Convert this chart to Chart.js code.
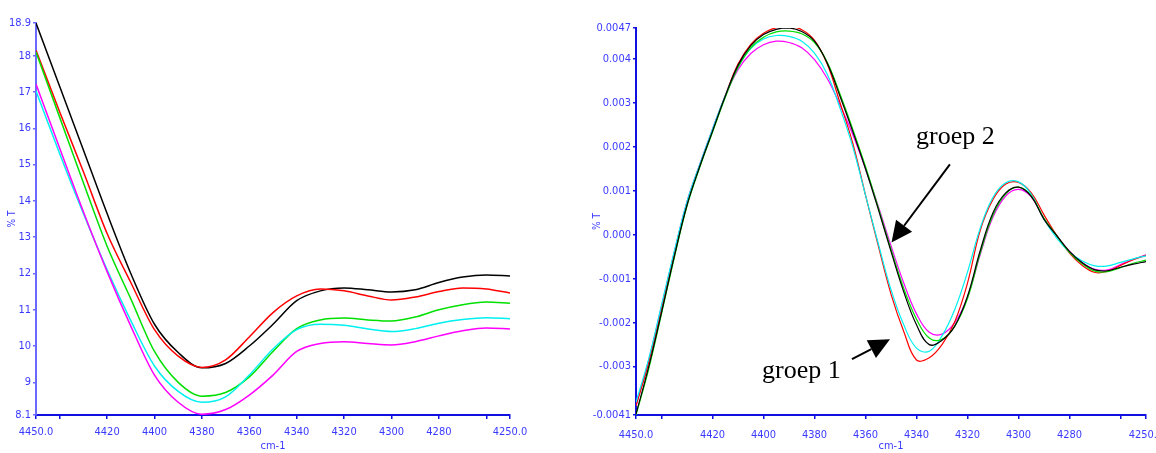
<!DOCTYPE html>
<html>
<head>
<meta charset="utf-8">
<script src="https://cdn.jsdelivr.net/npm/chart.js@4.4.1/dist/chart.umd.min.js"></script>
<style>
    html, body { margin: 0; padding: 0; background: #fff; overflow: hidden; }
    #wrap { position: relative; width: 1156px; height: 453px; overflow: hidden; }
    #canvaLeft { position: absolute; left: 0; top: 0; }
    #canvaRight { position: absolute; left: 590px; top: 0; }
</style>
</head>
<body>
<div id="wrap">
    <canvas id="canvaLeft" width="540" height="453"></canvas>
    <canvas id="canvaRight" width="600" height="453"></canvas>
</div>
<script>
// --- data ---
const leftWavenumbers = [4450, 4440, 4430, 4420, 4410, 4400, 4390, 4380, 4370, 4360, 4350,
    4340, 4330, 4320, 4310, 4300, 4290, 4280, 4270, 4260, 4250];
const leftBlack   = [18.9, 17.15, 15.4, 13.65, 12.0, 10.6, 9.82, 9.4, 9.52, 10.0, 10.6, 11.25, 11.52, 11.6, 11.55, 11.49, 11.55, 11.75, 11.9, 11.96, 11.93];
const leftRed     = [18.15, 16.45, 14.8, 13.1, 11.75, 10.45, 9.72, 9.41, 9.62, 10.25, 10.92, 11.38, 11.57, 11.52, 11.38, 11.27, 11.35, 11.5, 11.6, 11.57, 11.46];
const leftGreen   = [18.1, 16.3, 14.5, 12.75, 11.3, 9.85, 9.0, 8.62, 8.72, 9.15, 9.85, 10.48, 10.72, 10.77, 10.72, 10.69, 10.8, 11.0, 11.14, 11.21, 11.18];
const leftCyan    = [17.03, 15.3, 13.65, 12.1, 10.7, 9.45, 8.75, 8.45, 8.6, 9.2, 9.92, 10.45, 10.6, 10.57, 10.47, 10.4, 10.48, 10.63, 10.73, 10.78, 10.75];
const leftMagenta = [17.22, 15.45, 13.7, 12.05, 10.55, 9.2, 8.45, 8.12, 8.25, 8.65, 9.2, 9.85, 10.07, 10.12, 10.07, 10.03, 10.12, 10.28, 10.42, 10.5, 10.47];
const leftYTicks = [8.1, 9, 10, 11, 12, 13, 14, 15, 16, 17, 18, 18.9];
const leftYLabels = ['8.1', '9', '10', '11', '12', '13', '14', '15', '16', '17', '18', '18.9'];

const rightWavenumbers = [4450, 4445, 4440, 4435, 4430, 4425, 4420, 4415, 4410, 4405, 4400,
    4395, 4390, 4385, 4380, 4375, 4370, 4365, 4360, 4355, 4350,
    4345, 4340, 4335, 4330, 4325, 4320, 4315, 4310, 4305, 4300,
    4295, 4290, 4285, 4280, 4275, 4270, 4265, 4260, 4255, 4250];
const rightBlack = [-0.00408, -0.00300, -0.00177, -0.00050, 0.00067, 0.00155, 0.00235, 0.00315, 0.00385, 0.00430, 0.00455,
    0.00467, 0.00470, 0.00462, 0.00440, 0.00390, 0.00315, 0.00235, 0.00150, 0.00058, -0.00038,
    -0.00130, -0.00205, -0.00250, -0.00240, -0.00208, -0.00140, -0.00036, 0.00050, 0.00095, 0.00108,
    0.00087, 0.00035, -0.00002, -0.00038, -0.00064, -0.00080, -0.00082, -0.00074, -0.00067, -0.00061];
const rightGreen = [-0.00410, -0.00305, -0.00180, -0.00053, 0.00065, 0.00153, 0.00233, 0.00312, 0.00380, 0.00425, 0.00449,
    0.00461, 0.00463, 0.00457, 0.00437, 0.00392, 0.00320, 0.00240, 0.00155, 0.00062, -0.00033,
    -0.00122, -0.00192, -0.00235, -0.00238, -0.00208, -0.00145, -0.00042, 0.00045, 0.00093, 0.00108,
    0.00088, 0.00037, -0.00002, -0.00040, -0.00066, -0.00083, -0.00084, -0.00075, -0.00065, -0.00058];
const rightRed = [-0.00389, -0.00290, -0.00170, -0.00045, 0.00070, 0.00157, 0.00237, 0.00316, 0.00388, 0.00433, 0.00458,
    0.00471, 0.00474, 0.00466, 0.00442, 0.00388, 0.00300, 0.00208, 0.00090, -0.00025, -0.00135,
    -0.00220, -0.00285, -0.00280, -0.00250, -0.00198, -0.00110, 0.00010, 0.00080, 0.00115, 0.00119,
    0.00095, 0.00045, -0.00002, -0.00042, -0.00070, -0.00086, -0.00083, -0.00070, -0.00057, -0.00047];
const rightCyan = [-0.00381, -0.00282, -0.00160, -0.00038, 0.00075, 0.00160, 0.00240, 0.00316, 0.00381, 0.00423, 0.00445,
    0.00453, 0.00451, 0.00440, 0.00413, 0.00365, 0.00288, 0.00200, 0.00090, -0.00020, -0.00125,
    -0.00205, -0.00258, -0.00265, -0.00230, -0.00170, -0.00085, 0.00015, 0.00085, 0.00118, 0.00120,
    0.00092, 0.00035, -0.00008, -0.00040, -0.00060, -0.00071, -0.00071, -0.00063, -0.00055, -0.00048];
const rightMagenta = [-0.00389, -0.00285, -0.00163, -0.00040, 0.00075, 0.00160, 0.00240, 0.00315, 0.00375, 0.00412, 0.00432,
    0.00440, 0.00437, 0.00425, 0.00398, 0.00355, 0.00295, 0.00228, 0.00150, 0.00065, -0.00025,
    -0.00110, -0.00180, -0.00222, -0.00226, -0.00200, -0.00142, -0.00045, 0.00040, 0.00088, 0.00103,
    0.00086, 0.00036, -0.00002, -0.00038, -0.00063, -0.00079, -0.00080, -0.00068, -0.00056, -0.00046];
const rightYTicks = [-0.0041, -0.003, -0.002, -0.001, 0, 0.001, 0.002, 0.003, 0.004, 0.0047];
const rightYLabels = ['-0.0041', '-0.003', '-0.002', '-0.001', '0.000', '0.001', '0.002', '0.003', '0.004', '0.0047'];

const xTicks = [4450, 4440, 4420, 4400, 4380, 4360, 4340, 4320, 4300, 4280, 4260, 4250];
const xLabels = ['4450.0', '', '4420', '4400', '4380', '4360', '4340', '4320', '4300', '4280', '', '4250.0'];

// annotations of the right plot, in data units
const groepTexts = [
    { text: 'groep 2', x: 4340.2, y: 0.00206 },
    { text: 'groep 1', x: 4400.6, y: -0.00326 }
];
const groepArrows = [
    { from: [4326.9, 0.00160], to: [4349.8, -0.00018] },
    { from: [4365.3, -0.00283], to: [4350.4, -0.00238] }
];

const narrowFont = '"Liberation Sans Narrow", "DejaVu Sans Condensed", Arial, sans-serif';
const tickBlue = '#3a3aff';

function puntos(xs, ys) {
    return xs.map((x, i) => ({ x: x, y: ys[i] }));
}

function serie(xs, ys, color, width) {
    return {
        data: puntos(xs, ys),
        borderColor: color,
        backgroundColor: color,
        borderWidth: width,
        pointRadius: 0,
        fill: false
    };
}

function crearGrafico(canvasId, cfg) {
    return new Chart(document.getElementById(canvasId), {
        type: 'line',
        data: { datasets: cfg.datasets },
        plugins: cfg.plugins || [],
        options: {
            responsive: false,
            animation: false,
            devicePixelRatio: 1,
            layout: { padding: cfg.padding },
            elements: { line: cfg.line },
            plugins: { legend: { display: false }, tooltip: { enabled: false } },
            scales: {
                x: {
                    type: 'linear',
                    reverse: true,
                    min: 4250,
                    max: 4450,
                    afterBuildTicks: (axis) => { axis.ticks = xTicks.map(v => ({ value: v })); },
                    afterFit: (scale) => { scale.height = cfg.xHeight; },
                    border: { display: true, color: '#1010e0', width: 2 },
                    grid: { display: true, drawOnChartArea: false, drawTicks: true, tickLength: 4, color: '#1010e0', lineWidth: 1.5 },
                    ticks: {
                        autoSkip: false,
                        maxRotation: 0,
                        padding: cfg.xPad,
                        color: tickBlue,
                        font: { family: narrowFont, size: 11 },
                        callback: (value) => {
                            const i = xTicks.indexOf(value);
                            return i >= 0 ? xLabels[i] : '';
                        }
                    },
                    title: {
                        display: true,
                        text: 'cm-1',
                        color: tickBlue,
                        padding: { top: 0, bottom: 0 },
                        font: { family: narrowFont, size: 11 }
                    }
                },
                y: {
                    type: 'linear',
                    min: cfg.yTicks[0],
                    max: cfg.yTicks[cfg.yTicks.length - 1],
                    afterBuildTicks: (axis) => { axis.ticks = cfg.yTicks.map(v => ({ value: v })); },
                    afterFit: (scale) => { scale.width = cfg.yWidth; },
                    border: { display: true, color: cfg.yAxisColor, width: 2 },
                    grid: { display: true, drawOnChartArea: false, drawTicks: true, tickLength: 3, color: cfg.yAxisColor, lineWidth: 1.5 },
                    ticks: {
                        autoSkip: false,
                        padding: 2,
                        color: tickBlue,
                        font: { family: narrowFont, size: 11 },
                        callback: (value) => {
                            const i = cfg.yTicks.findIndex(t => Math.abs(t - value) < 1e-9);
                            return i >= 0 ? cfg.yLabels[i] : '';
                        }
                    },
                    title: {
                        display: true,
                        text: '% T',
                        color: tickBlue,
                        padding: { top: cfg.yTitlePad, bottom: 0 },
                        font: { family: narrowFont, size: 10 }
                    }
                }
            }
        }
    });
}

const groepPlugin = {
    id: 'groepPlugin',
    afterDatasetsDraw(chart) {
        const ctx = chart.ctx;
        const sx = chart.scales.x;
        const sy = chart.scales.y;
        ctx.save();
        ctx.fillStyle = '#000';
        ctx.strokeStyle = '#000';
        ctx.font = '26px "Liberation Serif", "Times New Roman", serif';
        ctx.textBaseline = 'alphabetic';
        ctx.textAlign = 'left';
        groepTexts.forEach(t => {
            ctx.fillText(t.text, sx.getPixelForValue(t.x), sy.getPixelForValue(t.y));
        });
        groepArrows.forEach(a => {
            const x0 = sx.getPixelForValue(a.from[0]), y0 = sy.getPixelForValue(a.from[1]);
            const x1 = sx.getPixelForValue(a.to[0]), y1 = sy.getPixelForValue(a.to[1]);
            const ang = Math.atan2(y1 - y0, x1 - x0);
            const len = 21, half = 10;
            const bx = x1 - len * Math.cos(ang), by = y1 - len * Math.sin(ang);
            ctx.lineWidth = 2;
            ctx.beginPath();
            ctx.moveTo(x0, y0);
            ctx.lineTo(bx, by);
            ctx.stroke();
            ctx.beginPath();
            ctx.moveTo(x1, y1);
            ctx.lineTo(bx + half * Math.sin(ang), by - half * Math.cos(ang));
            ctx.lineTo(bx - half * Math.sin(ang), by + half * Math.cos(ang));
            ctx.closePath();
            ctx.fill();
        });
        ctx.restore();
    }
};

crearGrafico('canvaLeft', {
    datasets: [
        serie(leftWavenumbers, leftMagenta, '#ff00ff', 1.5),
        serie(leftWavenumbers, leftCyan, '#00f0f0', 1.5),
        serie(leftWavenumbers, leftGreen, '#00e000', 1.5),
        serie(leftWavenumbers, leftRed, '#ff0000', 1.5),
        serie(leftWavenumbers, leftBlack, '#000000', 1.5)
    ],
    line: { tension: 0, cubicInterpolationMode: 'monotone' },
    padding: { top: 23, right: 30, left: 0, bottom: 0 },
    yTicks: leftYTicks,
    yLabels: leftYLabels,
    yWidth: 36,
    yTitlePad: 6,
    yAxisColor: '#6a6aff',
    xHeight: 38,
    xPad: 7
});

crearGrafico('canvaRight', {
    datasets: [
        serie(rightWavenumbers, rightBlack, '#000000', 1.2),
        serie(rightWavenumbers, rightGreen, '#00e000', 1.2),
        serie(rightWavenumbers, rightCyan, '#00f0f0', 1.2),
        serie(rightWavenumbers, rightRed, '#ff0000', 1.2),
        serie(rightWavenumbers, rightMagenta, '#ff00ff', 1.2)
    ],
    plugins: [groepPlugin],
    line: { tension: 0.4 },
    padding: { top: 28, right: 44, left: 0, bottom: 0 },
    yTicks: rightYTicks,
    yLabels: rightYLabels,
    yWidth: 46,
    yTitlePad: 1,
    yAxisColor: '#1010e0',
    xHeight: 38,
    xPad: 10
});
</script>
</body>
</html>
